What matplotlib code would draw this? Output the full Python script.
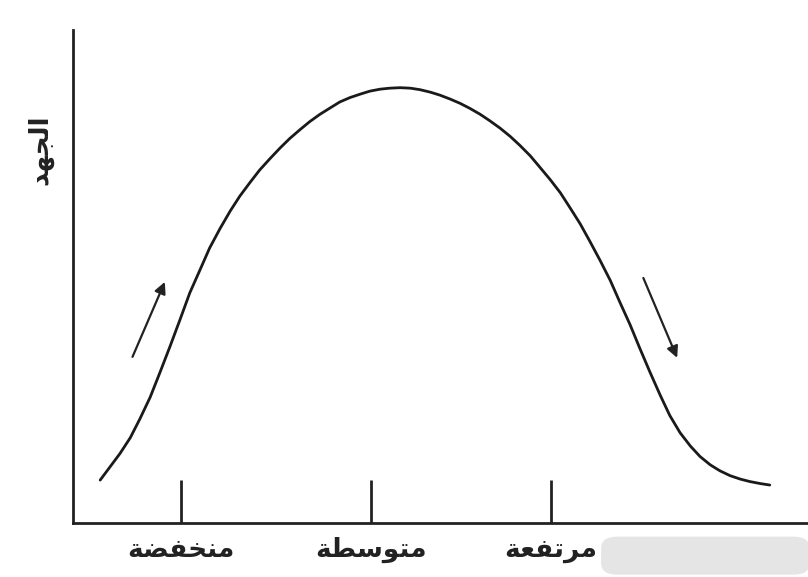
import matplotlib
matplotlib.use("Agg")
import matplotlib.pyplot as plt
from matplotlib.patches import FancyBboxPatch

# effort curve (x, y on a 0-100 scale)
curve_x = [3.7, 5.0, 6.4, 7.8, 9.1, 10.5, 11.8, 13.2, 14.6, 15.9, 17.3, 18.6,
           20.0, 21.4, 22.7, 24.1, 25.4, 26.8, 28.2, 29.5, 30.9, 32.2, 33.6,
           35.0, 36.3, 37.7, 39.1, 40.4, 41.8, 43.1, 44.5, 45.9, 47.2, 48.6,
           49.9, 51.3, 52.7, 54.0, 55.4, 56.7, 58.1, 59.5, 60.8, 62.2, 63.5,
           64.9, 66.3, 67.6, 69.0, 70.3, 71.7, 73.1, 74.4, 75.8, 77.1, 78.5,
           79.9, 81.2, 82.6, 84.0, 85.3, 86.7, 88.0, 89.4, 90.8, 92.1, 93.5,
           94.8]
curve_y = [8.7, 11.3, 14.1, 17.3, 21.1, 25.5, 30.4, 35.8, 41.4, 46.7, 51.4, 55.8,
           59.7, 63.3, 66.3, 69.1, 71.6, 73.9, 76.1, 78.0, 79.8, 81.4, 82.9,
           84.2, 85.4, 86.3, 87.0, 87.6, 88.0, 88.2, 88.3, 88.2, 87.9, 87.4,
           86.8, 86.0, 85.1, 84.1, 82.9, 81.6, 80.1, 78.4, 76.6, 74.5, 72.2,
           69.7, 67.0, 64.0, 60.7, 57.2, 53.3, 49.2, 44.8, 40.2, 35.5, 30.6,
           25.9, 21.8, 18.3, 15.6, 13.5, 11.8, 10.6, 9.6, 8.9, 8.4, 8.0,
           7.7]

tick_pos = [14.7, 40.5, 65.0]
tick_labels = ["منخفضة", "متوسطة", "مرتفعة"]
y_label = "الجهد"

# arrows: (x_start, y_start, x_end, y_end)
arrow_up = (8.1, 33.7, 12.5, 48.9)
arrow_down = (77.6, 49.7, 82.2, 33.5)

# minimal Arabic shaping: letter -> (isolated, final, initial, medial)
FORMS = {
    "ا": ("\uFE8D", "\uFE8E", None, None),
    "ل": ("\uFEDD", "\uFEDE", "\uFEDF", "\uFEE0"),
    "ج": ("\uFE9D", "\uFE9E", "\uFE9F", "\uFEA0"),
    "ه": ("\uFEE9", "\uFEEA", "\uFEEB", "\uFEEC"),
    "د": ("\uFEA9", "\uFEAA", None, None),
    "م": ("\uFEE1", "\uFEE2", "\uFEE3", "\uFEE4"),
    "ن": ("\uFEE5", "\uFEE6", "\uFEE7", "\uFEE8"),
    "خ": ("\uFEA5", "\uFEA6", "\uFEA7", "\uFEA8"),
    "ف": ("\uFED1", "\uFED2", "\uFED3", "\uFED4"),
    "ض": ("\uFEBD", "\uFEBE", "\uFEBF", "\uFEC0"),
    "ة": ("\uFE93", "\uFE94", None, None),
    "ت": ("\uFE95", "\uFE96", "\uFE97", "\uFE98"),
    "و": ("\uFEED", "\uFEEE", None, None),
    "س": ("\uFEB1", "\uFEB2", "\uFEB3", "\uFEB4"),
    "ط": ("\uFEC1", "\uFEC2", "\uFEC3", "\uFEC4"),
    "ر": ("\uFEAD", "\uFEAE", None, None),
    "ع": ("\uFEC9", "\uFECA", "\uFECB", "\uFECC"),
}


def shape(word):
    out = []
    for i, ch in enumerate(word):
        iso, fin, ini, med = FORMS[ch]
        prev_joins = i > 0 and FORMS[word[i - 1]][2] is not None
        next_joins = i < len(word) - 1 and ini is not None
        if prev_joins and next_joins:
            out.append(med)
        elif prev_joins:
            out.append(fin)
        elif next_joins:
            out.append(ini)
        else:
            out.append(iso)
    return "".join(reversed(out))


fig = plt.figure(figsize=(8.08, 5.77), dpi=100)
ax = fig.add_axes([0.0903, 0.0936, 0.9097, 0.8544])
ax.set_xlim(0, 100)
ax.set_ylim(0, 100)

ax.plot(curve_x, curve_y, color="#1a1a1a", lw=2.0,
        solid_capstyle="round", solid_joinstyle="round")

for x0, y0, x1, y1 in (arrow_up, arrow_down):
    ax.annotate("", xy=(x1, y1), xytext=(x0, y0),
                arrowprops=dict(arrowstyle="-|>", color="#222222", lw=1.6,
                                mutation_scale=17, shrinkA=0, shrinkB=0))

for side in ("top", "right"):
    ax.spines[side].set_visible(False)
for side in ("left", "bottom"):
    ax.spines[side].set_linewidth(2.0)
    ax.spines[side].set_color("#222222")

ax.set_yticks([])
ax.set_xticks(tick_pos)
ax.set_xticklabels([shape(t) for t in tick_labels], fontsize=19, fontweight="bold",
                   family="DejaVu Sans", color="#222222")
ax.tick_params(axis="x", direction="in", length=31, width=2, color="#222222", pad=10)

ax.text(-4.5, 75.7, shape(y_label), rotation=90, ha="center", va="center",
        fontsize=19, fontweight="bold", family="DejaVu Sans", color="#222222",
        clip_on=False)

# grey smudge at the lower right of the scan
fig.patches.append(FancyBboxPatch((0.748, 0.008), 0.25, 0.058,
                                  boxstyle="round,pad=0.004,rounding_size=0.02",
                                  transform=fig.transFigure, fc="#e5e5e5",
                                  ec="none", zorder=0))

fig.savefig("out.png", dpi=100)
